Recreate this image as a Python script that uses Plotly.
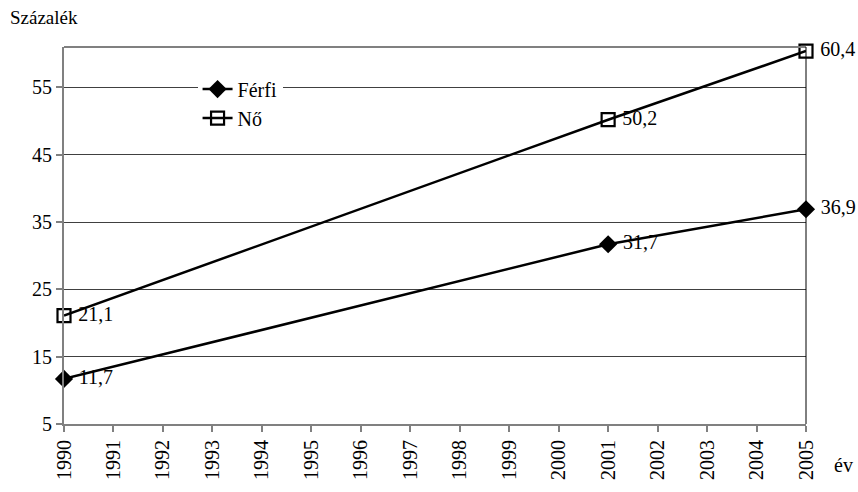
import plotly.graph_objects as go

years = [1990, 2001, 2005]
ferfi = [11.7, 31.7, 36.9]
no = [21.1, 50.2, 60.4]
ferfi_labels = ["11,7", "31,7", "36,9"]
no_labels = ["21,1", "50,2", "60,4"]
x_ticks = list(range(1990, 2006))
y_ticks = [5, 15, 25, 35, 45, 55]

FONT = "Liberation Serif"

fig = go.Figure()
fig.add_trace(go.Scatter(
    x=years, y=ferfi, name="Férfi", mode="lines+markers+text",
    line=dict(color="black", width=2.5),
    marker=dict(symbol="diamond", size=14, color="black"),
    text=[" " + t for t in ferfi_labels], textposition="middle right",
    textfont=dict(family=FONT, size=20, color="black"),
    cliponaxis=False,
))
fig.add_trace(go.Scatter(
    x=years, y=no, name="Nő", mode="lines+markers+text",
    line=dict(color="black", width=2.5),
    marker=dict(symbol="square-open", size=13, color="black", line=dict(width=2.2)),
    text=[" " + t for t in no_labels], textposition="middle right",
    textfont=dict(family=FONT, size=20, color="black"),
    cliponaxis=False,
))

fig.update_layout(
    width=858, height=492,
    margin=dict(l=64, r=52, t=47, b=60),
    paper_bgcolor="white", plot_bgcolor="white",
    font=dict(family=FONT, size=20, color="black"),
    showlegend=True,
    legend=dict(x=0.18, y=0.94, xanchor="left", yanchor="top",
                bgcolor="white", font=dict(family=FONT, size=20),
                tracegroupgap=0),
    xaxis=dict(range=[1990, 2005], tickvals=x_ticks, ticktext=[str(v) for v in x_ticks],
               tickangle=-90, showgrid=False, zeroline=False,
               showline=True, linecolor="#808080", linewidth=2,
               ticks="outside", ticklen=6, tickcolor="#808080", tickwidth=2,
               tickfont=dict(family=FONT, size=20)),
    yaxis=dict(range=[5, 61], tickvals=y_ticks, showgrid=True, gridcolor="#404040", gridwidth=1,
               zeroline=False, showline=True, linecolor="#808080", linewidth=2,
               ticks="outside", ticklen=6, tickcolor="#808080", tickwidth=2,
               tickfont=dict(family=FONT, size=20)),
    annotations=[
        dict(text="Százalék", xref="paper", yref="paper", x=-0.076, y=1.045,
             xanchor="left", yanchor="bottom", showarrow=False,
             font=dict(family=FONT, size=19)),
        dict(text="év", xref="paper", yref="paper", x=1.035, y=-0.11,
             xanchor="left", yanchor="middle", showarrow=False,
             font=dict(family=FONT, size=20)),
    ],
    shapes=[
        dict(type="line", xref="paper", yref="paper", x0=0, x1=1, y0=1, y1=1,
             line=dict(color="#808080", width=2)),
        dict(type="line", xref="paper", yref="paper", x0=1, x1=1, y0=0, y1=1,
             line=dict(color="black", width=1)),
    ],
)

fig.write_html("out.html", config={"displayModeBar": False},
               post_script="document.body.style.margin='0';")
